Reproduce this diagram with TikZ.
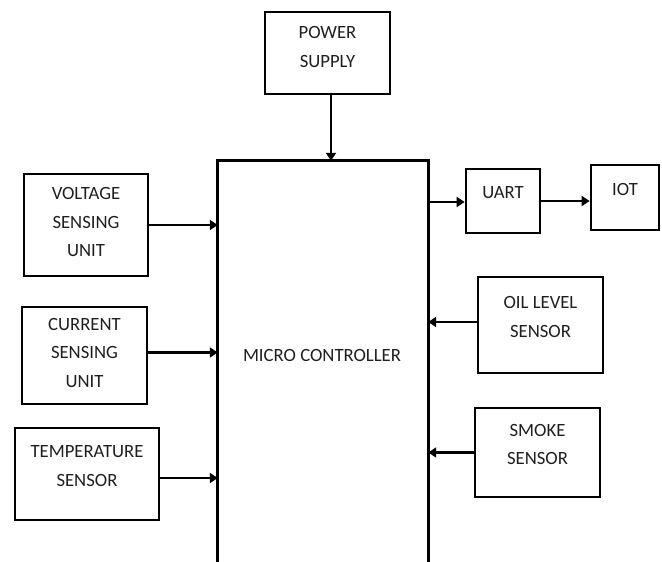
\documentclass[tikz,border=0pt]{standalone}
\usepackage{fontspec}
\setmainfont{Carlito}
\usetikzlibrary{arrows.meta}
\begin{document}
\begin{tikzpicture}[x=1pt,y=-1pt,
  box/.style={draw,line width=2.7pt,inner sep=0pt,rectangle},
  lbl/.style={align=center,text=black!88,font=\fontsize{18.7}{28.5}\selectfont,inner sep=0pt},
  conn/.style={line width=2.6pt,-{Triangle[length=8pt,width=10pt]}}]
\useasboundingbox (0,0) rectangle (662,562);
% boxes
\node[box,minimum width=125pt,minimum height=82pt] (ps) at (327.5,53) {};
\node[box,minimum width=124pt,minimum height=102pt] (volt) at (86,225) {};
\node[box,minimum width=125pt,minimum height=97pt] (cur) at (84.5,355.5) {};
\node[box,minimum width=144pt,minimum height=92pt] (temp) at (87,474) {};
\node[box,minimum width=74pt,minimum height=64pt] (uart) at (503,201) {};
\node[box,minimum width=68pt,minimum height=65pt] (iot) at (625,197.5) {};
\node[box,minimum width=125pt,minimum height=96pt] (oil) at (540.5,325) {};
\node[box,minimum width=125pt,minimum height=89pt] (smoke) at (537.5,452.5) {};
\node[inner sep=0pt,minimum width=210pt,minimum height=404pt] (mc) at (323,363) {};
\draw[line width=2.7pt] (mc.south west) -- (mc.north west) -- (mc.north east) -- (mc.south east);
% labels
\node[lbl] (tps) at ([yshift=6pt]ps.center) {POWER\\SUPPLY};
\node[lbl] (tvolt) at ([yshift=3pt]volt.center) {VOLTAGE\\SENSING\\UNIT};
\node[lbl] (tcur) at ([yshift=3pt]cur.center) {CURRENT\\SENSING\\UNIT};
\node[lbl] (ttemp) at ([yshift=8pt]temp.center) {TEMPERATURE\\SENSOR};
\node[lbl] (tuart) at ([yshift=8pt]uart.center) {UART};
\node[lbl] (tiot) at ([yshift=8pt]iot.center) {IOT};
\node[lbl] (toil) at ([yshift=8pt]oil.center) {OIL LEVEL\\SENSOR};
\node[lbl] (tsmoke) at ([yshift=8pt]smoke.center) {SMOKE\\SENSOR};
\node[lbl] (tmc) at (322,355) {MICRO CONTROLLER};
% connectors
\draw[conn] ([xshift=3.5pt]ps.south) -- ([xshift=3.5pt]ps.south |- mc.north);
\draw[conn] (volt.east) -- (volt.east -| mc.west);
\draw[conn] ([yshift=3pt]cur.east) -- ([yshift=3pt]cur.east -| mc.west);
\draw[conn] ([yshift=-4pt]temp.east) -- ([yshift=-4pt]temp.east -| mc.west);
\draw[conn] ([yshift=-1pt]uart.west -| mc.east) -- ([yshift=-1pt]uart.west);
\draw[conn] (uart.east) -- (uart.east -| iot.west);
\draw[conn] ([yshift=3pt]oil.west) -- ([yshift=3pt]oil.west -| mc.east);
\draw[conn] (smoke.west) -- (smoke.west -| mc.east);
\end{tikzpicture}
\end{document}
